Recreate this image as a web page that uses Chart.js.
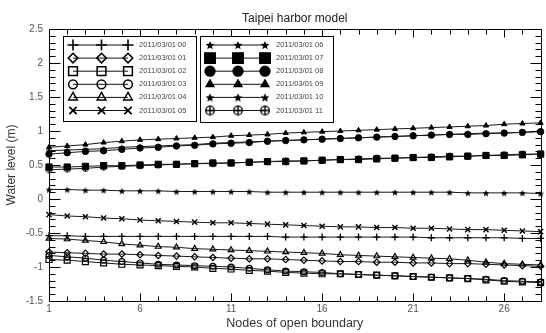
<!DOCTYPE html>
<html>
<head>
<meta charset="utf-8">
<script src="https://cdn.jsdelivr.net/npm/chart.js@4.4.1/dist/chart.umd.min.js"></script>
<style>
  html, body { margin: 0; padding: 0; background: #fff; }
  #wrap { width: 546px; height: 333px; }
</style>
</head>
<body>
<div id="wrap"><canvas id="harborChart" width="546" height="333"></canvas></div>
<script>
// ===== DATA =====
const nodes = [1, 2, 3, 4, 5, 6, 7, 8, 9, 10, 11, 12, 13, 14, 15, 16, 17, 18, 19, 20, 21, 22, 23, 24, 25, 26, 27, 28];
const hourLabels = ["2011/03/01 00", "2011/03/01 01", "2011/03/01 02", "2011/03/01 03", "2011/03/01 04", "2011/03/01 05",
                    "2011/03/01 06", "2011/03/01 07", "2011/03/01 08", "2011/03/01 09", "2011/03/01 10", "2011/03/01 11"];
const xTickValues = [1, 6, 11, 16, 21, 26];

const level00 = [-0.54, -0.54, -0.55, -0.55, -0.55, -0.55, -0.55, -0.55, -0.55, -0.55, -0.55, -0.55, -0.55, -0.56, -0.56, -0.56, -0.56, -0.56, -0.56, -0.56, -0.56, -0.57, -0.57, -0.57, -0.57, -0.57, -0.58, -0.58];
const level01 = [-0.78, -0.79, -0.80, -0.81, -0.81, -0.82, -0.83, -0.84, -0.85, -0.86, -0.87, -0.88, -0.88, -0.89, -0.90, -0.91, -0.92, -0.92, -0.93, -0.93, -0.94, -0.94, -0.95, -0.95, -0.96, -0.97, -0.98, -0.99];
const level02 = [-0.89, -0.90, -0.92, -0.94, -0.96, -0.97, -0.98, -0.99, -1.00, -1.02, -1.03, -1.05, -1.06, -1.08, -1.09, -1.10, -1.10, -1.11, -1.12, -1.13, -1.14, -1.15, -1.16, -1.17, -1.19, -1.21, -1.22, -1.23];
const level03 = [-0.83, -0.85, -0.87, -0.90, -0.92, -0.94, -0.96, -0.97, -0.98, -0.99, -1.00, -1.02, -1.04, -1.06, -1.07, -1.08, -1.10, -1.11, -1.12, -1.13, -1.14, -1.15, -1.16, -1.17, -1.18, -1.20, -1.21, -1.22];
const level04 = [-0.58, -0.59, -0.61, -0.63, -0.66, -0.68, -0.70, -0.71, -0.73, -0.74, -0.75, -0.76, -0.77, -0.78, -0.79, -0.80, -0.82, -0.83, -0.84, -0.85, -0.86, -0.87, -0.88, -0.90, -0.93, -0.95, -0.96, -0.97];
const level05 = [-0.23, -0.25, -0.26, -0.28, -0.29, -0.31, -0.32, -0.33, -0.34, -0.35, -0.35, -0.36, -0.37, -0.38, -0.39, -0.40, -0.41, -0.41, -0.42, -0.42, -0.43, -0.43, -0.44, -0.45, -0.45, -0.46, -0.47, -0.48];
const level06 = [0.14, 0.14, 0.13, 0.13, 0.12, 0.12, 0.12, 0.11, 0.11, 0.11, 0.11, 0.11, 0.10, 0.10, 0.10, 0.10, 0.10, 0.10, 0.10, 0.10, 0.10, 0.10, 0.10, 0.09, 0.09, 0.09, 0.09, 0.08];
const level07 = [0.47, 0.47, 0.48, 0.49, 0.49, 0.50, 0.51, 0.51, 0.52, 0.53, 0.53, 0.54, 0.55, 0.55, 0.56, 0.57, 0.58, 0.58, 0.59, 0.60, 0.61, 0.61, 0.62, 0.63, 0.64, 0.64, 0.65, 0.66];
const level08 = [0.66, 0.68, 0.70, 0.71, 0.73, 0.75, 0.76, 0.78, 0.79, 0.81, 0.82, 0.83, 0.85, 0.86, 0.87, 0.88, 0.89, 0.90, 0.91, 0.92, 0.93, 0.94, 0.95, 0.95, 0.96, 0.97, 0.98, 0.99];
const level09 = [0.76, 0.78, 0.80, 0.83, 0.85, 0.87, 0.88, 0.89, 0.90, 0.91, 0.93, 0.94, 0.95, 0.97, 0.98, 0.99, 1.00, 1.01, 1.02, 1.03, 1.04, 1.05, 1.06, 1.07, 1.08, 1.10, 1.11, 1.12];
const level10 = [0.71, 0.72, 0.73, 0.74, 0.76, 0.77, 0.78, 0.79, 0.80, 0.82, 0.83, 0.84, 0.85, 0.86, 0.87, 0.88, 0.89, 0.90, 0.91, 0.92, 0.93, 0.94, 0.95, 0.96, 0.97, 0.97, 0.98, 1.00];
const level11 = [0.43, 0.44, 0.45, 0.47, 0.48, 0.49, 0.50, 0.51, 0.52, 0.52, 0.53, 0.54, 0.55, 0.56, 0.56, 0.57, 0.58, 0.59, 0.60, 0.60, 0.61, 0.62, 0.63, 0.63, 0.64, 0.65, 0.66, 0.66];

const allLevels = [level00, level01, level02, level03, level04, level05, level06, level07, level08, level09, level10, level11];

// ===== CUSTOM MARKERS =====
function starMarker(r) {
  const c = document.createElement("canvas");
  const s = Math.ceil(r * 2 + 2);
  c.width = c.height = s;
  const g = c.getContext("2d");
  g.fillStyle = "#000";
  g.beginPath();
  for (let i = 0; i < 10; i++) {
    const a = -Math.PI / 2 + i * Math.PI / 5;
    const rr = i % 2 ? r * 0.45 : r;
    g.lineTo(s / 2 + rr * Math.cos(a), s / 2 + 0.5 + rr * Math.sin(a));
  }
  g.closePath();
  g.fill();
  return c;
}

function oplusMarker(r, lw) {
  const c = document.createElement("canvas");
  const s = Math.ceil(r * 2 + 3);
  c.width = c.height = s;
  const g = c.getContext("2d");
  g.strokeStyle = "#000";
  g.lineWidth = lw;
  const m = s / 2;
  g.beginPath();
  g.arc(m, m, r, 0, Math.PI * 2);
  g.moveTo(m - r, m); g.lineTo(m + r, m);
  g.moveTo(m, m - r); g.lineTo(m, m + r);
  g.stroke();
  return c;
}

const NONE = "rgba(0,0,0,0)";
// style per hour: [pointStyle, filled, plot radius, legend radius, border width]
const markerStyles = [
  ["cross", false, 3.5, 5.5, 1.3],
  ["rectRot", false, 3.2, 4.8, 1.2],
  ["rect", false, 4.2, 6.2, 1.2],
  ["circle", false, 2.9, 4.4, 1.2],
  ["triangle", false, 3.3, 5, 1.2],
  ["crossRot", false, 3.6, 5.2, 1.4],
  [starMarker(3.6), true, 0, 0, 0],
  ["rect", true, 4.4, 7.5, 1],
  ["circle", true, 3.2, 5, 1],
  ["triangle", true, 3, 4.6, 1],
  [starMarker(3.6), true, 0, 0, 0],
  [oplusMarker(3, 1), false, 0, 0, 0]
];
const legendImages = { 6: starMarker(4.6), 10: starMarker(4.6), 11: oplusMarker(4.3, 1.3) };

const datasets = allLevels.map((vals, i) => {
  const [style, filled, r, , bw] = markerStyles[i];
  return {
    label: hourLabels[i],
    data: vals,
    borderColor: "#1a1a1a",
    borderWidth: 1,
    pointStyle: style,
    pointRadius: typeof style === "string" ? r : 4,
    pointBorderWidth: bw,
    pointBorderColor: "#000",
    pointBackgroundColor: filled ? "#000" : NONE,
    fill: false,
    tension: 0,
    clip: false
  };
});

// ===== PLUGINS: frame with inward ticks + boxed legend =====
const frameTicks = {
  id: "frameTicks",
  afterDraw(chart) {
    const { ctx, chartArea: a, scales: { x, y } } = chart;
    const L = Math.round(a.left) + 0.5, R = Math.round(a.right) + 0.5;
    const T = Math.round(a.top) + 0.5, B = Math.round(a.bottom) + 0.5;
    ctx.save();
    ctx.strokeStyle = "#000";
    ctx.lineWidth = 1;
    ctx.beginPath();
    ctx.rect(L, T, R - L, B - T);
    nodes.forEach(n => {
      const px = Math.round(x.getPixelForValue(n)) + 0.5;
      const len = (n - 1) % 5 === 0 ? 8 : 5;
      ctx.moveTo(px, B); ctx.lineTo(px, B - len);
      ctx.moveTo(px, T); ctx.lineTo(px, T + len);
    });
    for (let k = -15; k <= 25; k++) {
      const py = Math.round(y.getPixelForValue(k / 10)) + 0.5;
      const len = k % 5 === 0 ? 11 : 6;
      ctx.moveTo(L, py); ctx.lineTo(L + len, py);
      ctx.moveTo(R, py); ctx.lineTo(R - len, py);
    }
    ctx.stroke();
    ctx.restore();
  }
};

const boxLegend = {
  id: "boxLegend",
  afterDraw(chart) {
    const ctx = chart.ctx;
    const boxes = [
      { x: 63, y: 36, w: 133, h: 85, mx: [73, 101.5, 128], tx: 139, first: 0 },
      { x: 200, y: 36, w: 133, h: 86, mx: [210, 238, 265], tx: 276, first: 6 }
    ];
    ctx.save();
    boxes.forEach(b => {
      ctx.fillStyle = "#fff";
      ctx.fillRect(b.x, b.y, b.w, b.h);
      ctx.strokeStyle = "#000";
      ctx.lineWidth = 1;
      ctx.strokeRect(b.x + 0.5, b.y + 0.5, b.w, b.h);
      for (let j = 0; j < 6; j++) {
        const i = b.first + j;
        const yy = 45 + j * 13.1;
        ctx.strokeStyle = "#111";
        ctx.lineWidth = 1;
        ctx.beginPath();
        ctx.moveTo(b.mx[0], yy); ctx.lineTo(b.mx[2], yy);
        ctx.stroke();
        const [style, filled, , lr, bw] = markerStyles[i];
        b.mx.forEach(mx => {
          if (legendImages[i]) {
            const img = legendImages[i];
            ctx.drawImage(img, mx - img.width / 2, yy - img.height / 2);
          } else {
            ctx.strokeStyle = "#000";
            ctx.fillStyle = filled ? "#000" : NONE;
            ctx.lineWidth = bw + 0.3;
            Chart.helpers.drawPoint(ctx, { pointStyle: style, radius: lr, rotation: 0, borderWidth: bw + 0.3 }, mx, yy);
          }
        });
        ctx.fillStyle = "#444";
        ctx.font = "7.5px 'Liberation Sans', Arial, sans-serif";
        ctx.textBaseline = "middle";
        ctx.textAlign = "left";
        ctx.fillText(hourLabels[i], b.tx, yy);
      }
    });
    ctx.restore();
  }
};

// ===== CHART =====
const ctx = document.getElementById("harborChart");
new Chart(ctx, {
  type: "line",
  data: { labels: nodes, datasets: datasets },
  options: {
    responsive: false,
    animation: false,
    layout: { padding: { left: 0, right: 1, top: 0, bottom: 0 } },
    plugins: {
      legend: { display: false },
      tooltip: { enabled: false },
      title: {
        display: true,
        fullSize: false,
        text: "Taipei harbor model",
        color: "#222",
        font: { family: "'Liberation Sans', Arial, sans-serif", size: 12, weight: "normal" },
        padding: { top: 11, bottom: 3.6 }
      }
    },
    scales: {
      x: {
        type: "linear",
        min: 1,
        max: 28,
        grid: { display: false, drawTicks: false },
        border: { display: false },
        afterBuildTicks: s => { s.ticks = xTickValues.map(v => ({ value: v })); },
        afterFit: s => { s.height = 32; },
        ticks: {
          color: "#555",
          padding: 2,
          maxRotation: 0,
          font: { family: "'Liberation Sans', Arial, sans-serif", size: 10 },
          callback: v => String(v)
        },
        title: {
          display: true,
          text: "Nodes of open boundary",
          color: "#333",
          font: { family: "'Liberation Sans', Arial, sans-serif", size: 12.5 },
          padding: { top: 0, bottom: 1.5 }
        }
      },
      y: {
        min: -1.5,
        max: 2.5,
        grid: { display: false, drawTicks: false },
        border: { display: false },
        afterFit: s => { s.width = 49; },
        ticks: {
          stepSize: 0.5,
          color: "#555",
          padding: 6,
          font: { family: "'Liberation Sans', Arial, sans-serif", size: 10 },
          callback: v => String(Math.round(v * 10) / 10)
        },
        title: {
          display: true,
          text: "Water level (m)",
          color: "#333",
          font: { family: "'Liberation Sans', Arial, sans-serif", size: 12 },
          padding: { top: 4.5, bottom: 0 }
        }
      }
    }
  },
  plugins: [frameTicks, boxLegend]
});
</script>
</body>
</html>
